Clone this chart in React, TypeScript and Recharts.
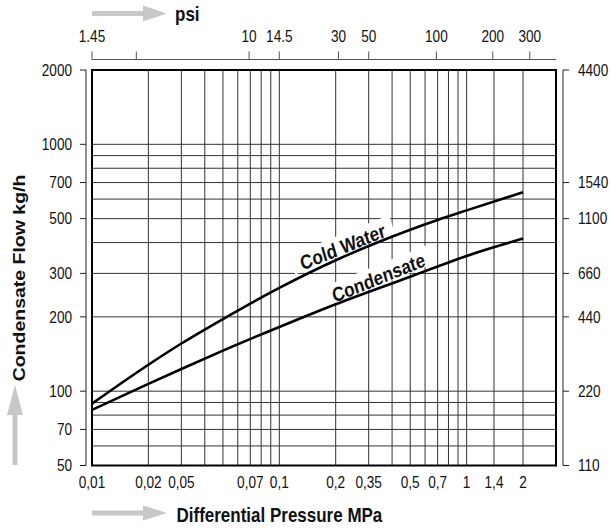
import React from "react";
import {
  LineChart,
  Line,
  XAxis,
  YAxis,
  ReferenceLine,
  ReferenceArea,
  ReferenceDot,
} from "recharts";

// values (log-log)
const PRESSURE_MPA = [0.01, 0.02, 0.03, 0.05, 0.1, 0.2, 0.5, 0.7, 1, 2];
const COLD_WATER_KGH = [89, 128, 156, 196, 262, 339, 451, 494, 540, 640];
const CONDENSATE_KGH = [84, 107, 123, 146, 182, 225, 291, 320, 353, 415];

const MPA_TICKS = [0.01, 0.02, 0.03, 0.07, 0.1, 0.2, 0.3, 0.5, 0.7, 1, 1.4, 2];
const MPA_LABELS = ["0,01", "0,02", "0,05", "0,07", "0,1", "0,2", "0,35", "0,5", "0,7", "1", "1,4", "2"];
const PSI_PER_MPA = 145;
const PSI_TICKS = [1.45, 2.5, 10, 14.5, 30, 43.5, 100, 200, 315];
const PSI_LABELS = ["1.45", "", "10", "14.5", "30", "50", "100", "200", "300"];
const KG_TICKS = [50, 70, 100, 200, 300, 500, 700, 1000, 2000];
const LB_TICKS = [110, 220, 440, 660, 1100, 1540, 4400];

const GRID_MPA = [0.02, 0.03, 0.04, 0.05, 0.06, 0.07, 0.08, 0.09, 0.1, 0.2, 0.3, 0.4, 0.5, 0.6, 0.7, 0.8, 0.9, 1, 1.4, 2];
const GRID_KG = [60, 70, 80, 90, 100, 200, 300, 400, 500, 600, 700, 800, 900, 1000];

const coldData = PRESSURE_MPA.map((p, i) => ({ p, v: COLD_WATER_KGH[i] }));
const condData = PRESSURE_MPA.map((p, i) => ({ p, v: CONDENSATE_KGH[i] }));
const psiTicksMpa = PSI_TICKS.map((v) => v / PSI_PER_MPA);

const SANS = '"Liberation Sans", Arial, sans-serif';
const SQUEEZE = 0.85; // the original artwork is narrower than the font
const TXT = "#111";
const GRID = "#333";
const ARROW = "#c8c8c8";

function labelFor(ticks: number[], labels: string[], v: number) {
  const i = ticks.findIndex((t) => Math.abs(t - v) < 1e-9);
  return i < 0 ? String(v) : labels[i];
}

// axes are drawn a few px away from the frame, labels are shifted the same way
function NarrowTick(props: any) {
  const { x, y, payload, textAnchor, dy, fmt, ox = 0, oy = 0 } = props;
  const text = fmt ? fmt(payload.value) : String(payload.value);
  return (
    <text
      transform={`translate(${x + ox},${y + oy}) scale(${SQUEEZE},1)`}
      x={0}
      y={0}
      dy={dy}
      textAnchor={textAnchor}
      fontFamily={SANS}
      fontSize={16}
      fill={TXT}
    >
      {text}
    </text>
  );
}

function CurveLabel({ cx, cy, text, w }: { cx?: number; cy?: number; text: string; w: number }) {
  if (cx == null || cy == null) return null;
  return (
    <g transform={`translate(${cx},${cy}) scale(${SQUEEZE},1) rotate(-19)`}>
      <rect x={-w / 2} y={-12} width={w} height={20} fill="#fff" />
      <text
        x={0}
        y={0}
        dy="0.36em"
        textAnchor="middle"
        fontFamily={SANS}
        fontWeight="bold"
        fontSize={20}
        fill={TXT}
      >
        {text}
      </text>
    </g>
  );
}

export default function App() {
  return (
    <div style={{ position: "relative", width: 611, height: 529, background: "#fff" }}>
      <style>{`
        body { margin: 0; }
        .axis-left { transform: translateX(-6px); }
        .axis-right { transform: translateX(7px); }
        .axis-top { transform: translateY(-10.5px); }
      `}</style>
      <LineChart width={611} height={529} margin={{ top: 30, left: 42, right: 7, bottom: 33.5 }}>
        <XAxis
          xAxisId="mpa"
          dataKey="p"
          type="number"
          scale="log"
          domain={[0.01, 3]}
          allowDataOverflow
          ticks={MPA_TICKS}
          interval={0}
          axisLine={false}
          tickLine={false}
          tickSize={6}
          tickMargin={5}
          height={30}
          tick={<NarrowTick dy="0.71em" fmt={(v: number) => labelFor(MPA_TICKS, MPA_LABELS, v)} />}
        />
        <XAxis
          xAxisId="psi"
          dataKey="p"
          orientation="top"
          type="number"
          scale="log"
          domain={[0.01, 3]}
          allowDataOverflow
          ticks={psiTicksMpa}
          interval={0}
          className="axis-top"
          axisLine={{ stroke: "#555" }}
          tickLine={{ stroke: "#555" }}
          tickSize={8}
          tickMargin={9.5}
          height={40}
          tick={<NarrowTick dy="0" oy={-10.5} fmt={(v: number) => labelFor(psiTicksMpa, PSI_LABELS, v)} />}
        />
        <YAxis
          yAxisId="kg"
          type="number"
          scale="log"
          domain={[50, 2000]}
          allowDataOverflow
          ticks={KG_TICKS}
          interval={0}
          className="axis-left"
          axisLine={{ stroke: "#222" }}
          tickLine={{ stroke: "#222" }}
          tickSize={6}
          tickMargin={8}
          width={50}
          tick={<NarrowTick dy="0.36em" ox={-6} />}
        />
        <YAxis
          yAxisId="lb"
          orientation="right"
          type="number"
          scale="log"
          domain={[110, 4400]}
          allowDataOverflow
          ticks={LB_TICKS}
          interval={0}
          className="axis-right"
          axisLine={{ stroke: "#222" }}
          tickLine={{ stroke: "#222" }}
          tickSize={6}
          tickMargin={9}
          width={48}
          tick={<NarrowTick dy="0.36em" ox={7} />}
        />

        {GRID_MPA.map((x) => (
          <ReferenceLine key={"gx" + x} xAxisId="mpa" yAxisId="kg" x={x} stroke={GRID} strokeWidth={1} zIndex={50} />
        ))}
        {GRID_KG.map((y) => (
          <ReferenceLine key={"gy" + y} xAxisId="mpa" yAxisId="kg" y={y} stroke={GRID} strokeWidth={1} zIndex={50} />
        ))}
        <ReferenceArea
          xAxisId="mpa"
          yAxisId="kg"
          x1={0.01}
          x2={3}
          y1={50}
          y2={2000}
          fill="none"
          fillOpacity={0}
          stroke="#000"
          strokeWidth={2}
          zIndex={60}
        />

        <ReferenceDot
          xAxisId="mpa"
          yAxisId="kg"
          x={0.218}
          y={385}
          zIndex={70}
          shape={(p: any) => <CurveLabel cx={p.cx} cy={p.cy} text="Cold Water" w={124} />}
        />
        <ReferenceDot
          xAxisId="mpa"
          yAxisId="kg"
          x={0.338}
          y={289}
          zIndex={70}
          shape={(p: any) => <CurveLabel cx={p.cx} cy={p.cy} text="Condensate" w={132} />}
        />

        <Line
          xAxisId="mpa"
          yAxisId="kg"
          data={coldData}
          dataKey="v"
          type="monotone"
          stroke="#000"
          strokeWidth={2.6}
          dot={false}
          isAnimationActive={false}
          zIndex={400}
        />
        <Line
          xAxisId="psi"
          yAxisId="kg"
          data={condData}
          dataKey="v"
          type="monotone"
          stroke="#000"
          strokeWidth={2.6}
          dot={false}
          isAnimationActive={false}
          zIndex={400}
        />
      </LineChart>

      <svg
        width={611}
        height={529}
        style={{ position: "absolute", left: 0, top: 0, pointerEvents: "none" }}
      >
        {/* top: psi */}
        <rect x={92} y={11} width={51} height={5} fill={ARROW} />
        <polygon points="143,5.5 167,13.5 143,21.5" fill={ARROW} />
        <text
          transform={`translate(175,20.5) scale(${SQUEEZE},1)`}
          fontFamily={SANS}
          fontWeight="bold"
          fontSize={20}
          fill={TXT}
        >
          psi
        </text>

        {/* bottom: MPa */}
        <rect x={92} y={510.5} width={51} height={5} fill={ARROW} />
        <polygon points="143,505.5 167,513 143,520.5" fill={ARROW} />
        <text
          transform={`translate(176.5,522) scale(${SQUEEZE},1)`}
          fontFamily={SANS}
          fontWeight="bold"
          fontSize={20}
          fill={TXT}
        >
          Differential Pressure MPa
        </text>

        {/* left: flow */}
        <rect x={12.5} y={414} width={5} height={51} fill={ARROW} />
        <polygon points="7,415 15,385 23,415" fill={ARROW} />
        <text
          transform={`translate(25,278) scale(${SQUEEZE},1) rotate(-90)`}
          textAnchor="middle"
          fontFamily={SANS}
          fontWeight="bold"
          fontSize={19.5}
          fill={TXT}
        >
          Condensate Flow kg/h
        </text>
      </svg>
    </div>
  );
}
